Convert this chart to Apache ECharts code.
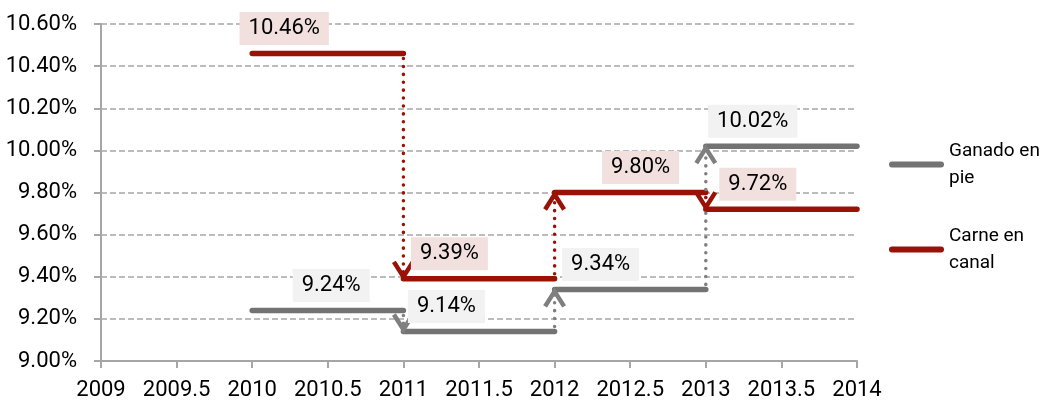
<!DOCTYPE html>
<html>
<head>
<meta charset="utf-8">
<script src="https://cdn.jsdelivr.net/npm/echarts@6/dist/echarts.min.js"></script>
<style>
  html, body { margin: 0; padding: 0; background: #fff; }
  #chart { width: 1043px; height: 402px; }
</style>
</head>
<body>
<div id="chart"></div>
<script>
// segment boundaries (years) and the level of each segment
var years = [2010, 2011, 2012, 2013, 2014];
var ganado = [9.24, 9.14, 9.34, 10.02];
var carne = [10.46, 9.39, 9.80, 9.72];

// label shift (px) from each segment start, hand placed like the original
var ganadoLabelDx = [79, 43, 46, 47];
var carneLabelDx = [32, 46, 86, 52];

var FONT = 'Roboto, "Noto Sans", sans-serif';
var GRAY = '#737373';
var RED = '#9a1206';

// step segments, broken between years
function steps(vals) {
  var out = [];
  for (var i = 0; i < vals.length; i++) {
    out.push([years[i], vals[i]]);
    out.push([years[i + 1], vals[i]]);
    out.push([years[i + 1], '-']);
  }
  return out;
}

// vertical jumps at each year change
function jumps(vals) {
  var out = [];
  for (var i = 1; i < vals.length; i++) out.push([years[i], vals[i - 1], vals[i]]);
  return out;
}

function labels(vals) {
  var out = [];
  for (var i = 0; i < vals.length; i++) out.push([years[i], vals[i]]);
  return out;
}

function arrowSeries(name, vals, color) {
  return {
    name: name,
    type: 'custom',
    data: jumps(vals),
    z: 3,
    renderItem: function (params, api) {
      var x = api.value(0);
      var p0 = api.coord([x, api.value(1)]);
      var p1 = api.coord([x, api.value(2)]);
      var dir = p1[1] > p0[1] ? 1 : -1;
      var hw = 9.5, h = 17;
      return {
        type: 'group',
        children: [
          {
            type: 'line',
            shape: { x1: p0[0], y1: p0[1] + dir * 5, x2: p1[0], y2: p1[1] },
            style: { stroke: color, lineWidth: 3.5, lineDash: [0.1, 7.8], lineCap: 'round' }
          },
          {
            type: 'polyline',
            shape: { points: [[p1[0] - hw, p1[1] - dir * h], [p1[0], p1[1] - dir * 2], [p1[0] + hw, p1[1] - dir * h]] },
            style: { stroke: color, fill: null, lineWidth: 4.5, lineJoin: 'miter' }
          }
        ]
      };
    }
  };
}

function labelSeries(name, vals, dxs, bg) {
  return {
    name: name,
    type: 'custom',
    data: labels(vals),
    z: 4,
    renderItem: function (params, api) {
      var p = api.coord([api.value(0), api.value(1)]);
      return {
        type: 'text',
        x: p[0] + dxs[params.dataIndex],
        y: p[1] - 25,
        style: {
          text: api.value(1).toFixed(2) + '%',
          font: '22px ' + FONT,
          fill: '#000',
          align: 'center',
          verticalAlign: 'middle',
          backgroundColor: bg,
          padding: [6, 9, 5, 9]
        }
      };
    }
  };
}

function lineSeries(name, vals, color) {
  return {
    name: name,
    type: 'line',
    data: steps(vals),
    showSymbol: false,
    connectNulls: false,
    z: 2,
    itemStyle: { color: color },
    lineStyle: { color: color, width: 5.5, cap: 'round' },
    emphasis: { disabled: true }
  };
}

var chart = echarts.init(document.getElementById('chart'));
chart.setOption({
  animation: false,
  grid: { left: 101, right: 186, top: 24, bottom: 41 },
  legend: {
    orient: 'vertical',
    left: 889,
    top: 124,
    padding: 0,
    itemGap: 4,
    itemWidth: 55,
    itemHeight: 6,
    icon: 'path://M3,0 L52,0 A3,3 0 0 1 52,6 L3,6 A3,3 0 0 1 3,0 Z',
    data: ['Ganado en pie', 'Carne en canal'],
    formatter: function (n) { return n.replace(/ (\S+)$/, '\n$1'); },
    textStyle: { fontFamily: FONT, fontSize: 19, color: '#000', lineHeight: 27, padding: [27, 0, 0, 0] }
  },
  xAxis: {
    type: 'value',
    min: 2009,
    max: 2014,
    interval: 0.5,
    axisLine: { lineStyle: { color: '#a6a6a6', width: 2 } },
    axisTick: { show: true, length: 7, lineStyle: { color: '#a6a6a6', width: 2 } },
    axisLabel: {
      fontFamily: FONT, fontSize: 22, color: '#000', margin: 18,
      formatter: function (v) { return String(v); }
    },
    splitLine: { show: false }
  },
  yAxis: {
    type: 'value',
    min: 9,
    max: 10.6,
    interval: 0.2,
    axisLine: { show: true, lineStyle: { color: '#a6a6a6', width: 2 } },
    axisTick: { show: true, length: 7, lineStyle: { color: '#a6a6a6', width: 2 } },
    axisLabel: {
      fontFamily: FONT, fontSize: 22, color: '#000', margin: 24,
      formatter: function (v) { return v.toFixed(2) + '%'; }
    },
    splitLine: { lineStyle: { color: '#a6a6a6', width: 1.5, type: [6, 3] } }
  },
  series: [
    lineSeries('Ganado en pie', ganado, GRAY),
    lineSeries('Carne en canal', carne, RED),
    arrowSeries('Ganado en pie', ganado, '#7f7f7f'),
    arrowSeries('Carne en canal', carne, RED),
    labelSeries('Ganado en pie', ganado, ganadoLabelDx, '#f2f2f2'),
    labelSeries('Carne en canal', carne, carneLabelDx, '#f2e0de')
  ]
});
</script>
</body>
</html>
